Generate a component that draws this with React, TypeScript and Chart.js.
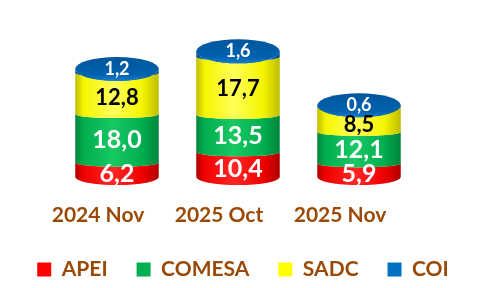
import React, { useEffect, useRef } from 'react';
import { Chart, registerables, LinearScale } from 'chart.js';

// ---------------- data ----------------
const categories = ['2024 Nov', '2025 Oct', '2025 Nov'];
const seriesNames = ['APEI', 'COMESA', 'SADC', 'COI'];
const apeiValues = [6.2, 10.4, 5.9];
const comesaValues = [18.0, 13.5, 12.1];
const sadcValues = [12.8, 17.7, 8.5];
const coiValues = [1.2, 1.6, 0.6];
const seriesValues = [apeiValues, comesaValues, sadcValues, coiValues];
const yMin = 0;
const yMax = 50;

// ---------------- styles ----------------
const COLORS = ['#FF0000', '#00B050', '#FFFF00', '#0070C0'];
const SHADES = [
  { dark: '#B00000', mid: '#F00000', light: '#FF2626' },
  { dark: '#00843C', mid: '#00AE4E', light: '#18C862' },
  { dark: '#BDBD00', mid: '#F5F500', light: '#FFFF5A' },
  { dark: '#004A8A', mid: '#0064B2', light: '#0A78CC' },
];
const LABEL_COLORS = ['#FFFFFF', '#FFFFFF', '#000000', '#FFFFFF'];
const LABEL_SIZES = [25, 25, 22, 18];
const BROWN = '#9A4A06';
const FONT = 'Lato, "Open Sans", sans-serif';
const RY_TOP = 12;
const RY_MID = 4;
const RY_BOTTOM = 8;
const WARP = 0.73; // perspective: lower part of cylinders slightly compressed

class PerspectiveScale extends LinearScale {
  static id = 'perspective';
  static defaults = LinearScale.defaults;
  getPixelForValue(value: any) {
    if (value === null || value === undefined || isNaN(value)) return NaN;
    const t = (value - (this as any).min) / ((this as any).max - (this as any).min);
    const d = WARP * t + (1 - WARP) * t * t;
    return (this as any).getPixelForDecimal(d);
  }
  getValueForPixel(pixel: number) {
    const d = (this as any).getDecimalForPixel(pixel);
    const a = 1 - WARP;
    const b = WARP;
    const t = (-b + Math.sqrt(b * b + 4 * a * d)) / (2 * a);
    return (this as any).min + t * ((this as any).max - (this as any).min);
  }
}

Chart.register(...registerables, PerspectiveScale as any);

const fmt = (v: number) => v.toFixed(1).replace('.', ',');

const cylinderPlugin = {
  id: 'cylinders',
  beforeDatasetsDraw(chart: any) {
    const ctx: CanvasRenderingContext2D = chart.ctx;
    const n = chart.data.datasets.length;
    const count = chart.data.labels.length;
    for (let j = 0; j < count; j++) {
      const segs: any[] = [];
      for (let i = 0; i < n; i++) {
        const el: any = chart.getDatasetMeta(i).data[j];
        segs.push({ x: el.x, y: el.y, base: el.base, width: el.width });
      }
      const cx = segs[0].x;
      const rx = segs[0].width / 2;
      const left = cx - rx;
      const right = cx + rx;
      const topY = segs[n - 1].y;
      ctx.save();
      for (let i = 0; i < n; i++) {
        const s = segs[i];
        const ryB = i === 0 ? RY_BOTTOM : RY_MID;
        const ryT = i === n - 1 ? RY_TOP : RY_MID;
        const sh = SHADES[i];
        const g = ctx.createLinearGradient(left, 0, right, 0);
        g.addColorStop(0, sh.dark);
        g.addColorStop(0.1, sh.mid);
        g.addColorStop(0.45, sh.light);
        g.addColorStop(0.8, sh.mid);
        g.addColorStop(1, sh.dark);
        ctx.beginPath();
        ctx.moveTo(left, s.y);
        ctx.lineTo(left, s.base);
        ctx.ellipse(cx, s.base, rx, ryB, 0, Math.PI, 0, true);
        ctx.lineTo(right, s.y);
        ctx.ellipse(cx, s.y, rx, ryT, 0, 0, Math.PI, false);
        ctx.closePath();
        ctx.fillStyle = g;
        ctx.fill();
      }
      // top face
      const tg = ctx.createLinearGradient(0, topY - RY_TOP, 0, topY + RY_TOP);
      tg.addColorStop(0, '#00569C');
      tg.addColorStop(0.75, '#0062AE');
      tg.addColorStop(1, '#1A7CD0');
      ctx.beginPath();
      ctx.ellipse(cx, topY, rx, RY_TOP, 0, 0, Math.PI * 2);
      ctx.fillStyle = tg;
      ctx.fill();

      // labels
      ctx.textAlign = 'center';
      ctx.textBaseline = 'middle';
      for (let i = 0; i < n; i++) {
        const s = segs[i];
        const value = chart.data.datasets[i].data[j];
        let ly: number;
        if (i === n - 1) {
          ly = topY;
        } else {
          const visTop = Math.max(s.y + RY_MID, topY + RY_TOP);
          const visBottom = s.base + (i === 0 ? RY_BOTTOM : RY_MID);
          ly = (visTop + visBottom) / 2 - 2;
        }
        ctx.font = `bold ${LABEL_SIZES[i]}px ${FONT}`;
        ctx.fillStyle = LABEL_COLORS[i];
        ctx.fillText(fmt(value), cx, ly);
      }
      ctx.restore();
    }
    return false;
  },
};

export default function App() {
  const canvasRef = useRef<HTMLCanvasElement | null>(null);
  useEffect(() => {
    document.body.style.margin = '0';
    const canvas = canvasRef.current;
    if (!canvas) return;
    const chart = new Chart(canvas, {
      type: 'bar',
      data: {
        labels: categories,
        datasets: seriesNames.map((name, i) => ({
          label: name,
          data: seriesValues[i],
          backgroundColor: COLORS[i],
          borderWidth: 0,
          barPercentage: 0.69,
          categoryPercentage: 1,
        })),
      },
      options: {
        responsive: false,
        animation: false,
        layout: { padding: { left: 6, right: 0, top: 26, bottom: -2 } },
        plugins: {
          legend: {
            position: 'bottom',
            labels: {
              boxWidth: 14,
              boxHeight: 14,
              padding: 29,
              color: BROWN,
              font: { family: FONT, size: 21, weight: 'bold' },
            },
          },
          tooltip: { enabled: false },
        },
        scales: {
          x: {
            stacked: true,
            grid: { display: false, drawTicks: true, tickLength: 23 },
            border: { display: false },
            ticks: {
              color: BROWN,
              padding: 2.4,
              labelOffset: -19,
              font: { family: FONT, size: 21, weight: 'bold' },
            },
          },
          y: {
            type: 'perspective',
            stacked: true,
            position: 'left',
            min: yMin,
            max: yMax,
            ticks: { display: false },
            grid: { display: false, drawTicks: false },
            border: { display: false },
            afterFit: (s: any) => {
              s.width = 50.5;
            },
          },
          yRight: {
            type: 'linear',
            position: 'right',
            ticks: { display: false },
            grid: { display: false, drawTicks: false },
            border: { display: false },
            afterFit: (s: any) => {
              s.width = 60.5;
            },
          },
        },
      } as any,
      plugins: [cylinderPlugin as any],
    });
    return () => chart.destroy();
  }, []);
  return (
    <div style={{ width: 480, height: 288 }}>
      <canvas ref={canvasRef} width={480} height={288} style={{ display: 'block' }} />
    </div>
  );
}
